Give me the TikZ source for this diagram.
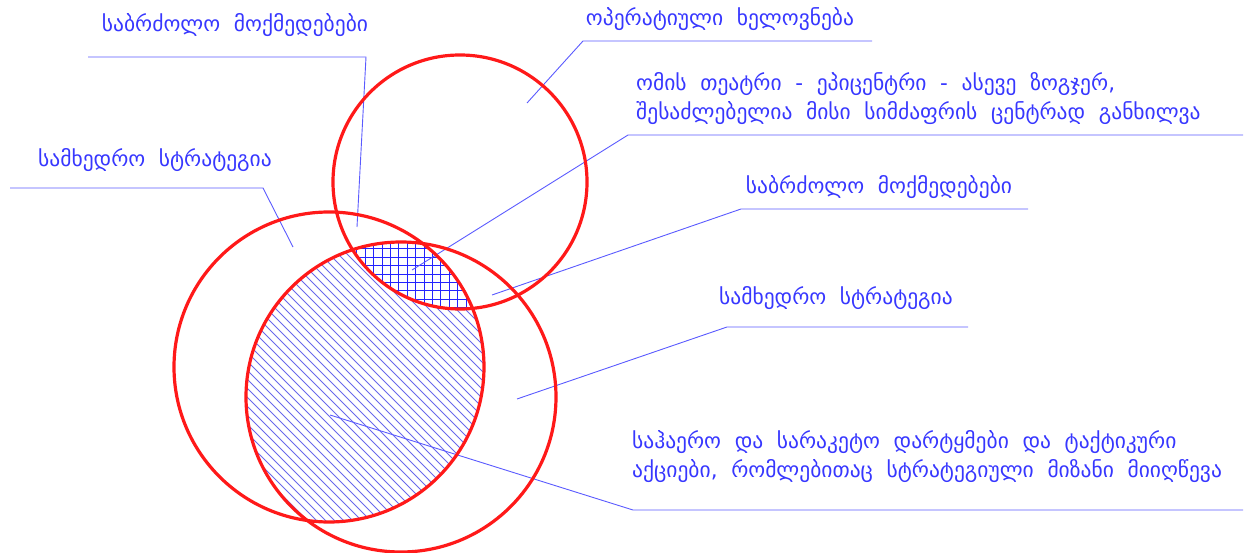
\documentclass[tikz,border=0pt]{standalone}
\usepackage{fontspec}
\usepackage{tikz}
\usetikzlibrary{calc,positioning}
\newfontfamily\geofont[WordSpace=2]{DejaVu Sans}
\definecolor{ringred}{RGB}{255,25,25}
\definecolor{leadblue}{RGB}{90,90,255}
\definecolor{textblue}{RGB}{55,55,255}
\definecolor{hatchblue}{RGB}{105,105,235}
\definecolor{gridblue}{RGB}{35,35,255}

\begin{document}
\begin{tikzpicture}[x=1pt,y=-1pt,
  ring/.style={draw=ringred,line width=3.2pt},
  lead/.style={draw=leadblue,line width=0.9pt},
  lbl/.style={text=textblue,font=\geofont\fontsize{21.5}{29}\selectfont,inner sep=0pt,align=left},
  hatchline/.style={draw=hatchblue,line width=0.8pt},
  gridline/.style={draw=gridblue,line width=0.8pt}]
\useasboundingbox (0,0) rectangle (1256,553);
\coordinate (cOp) at (460,182);
\coordinate (cStr) at (329,367);
\coordinate (cAct) at (401,397);

\begin{scope}
\clip (cStr) circle[radius=155];
\clip (cAct) circle[radius=155];
\foreach \c in {-285,-276,...,250} \draw[hatchline] (\c+200,200) -- (\c+560,560);
\clip (cOp) circle[radius=127];
\fill[white] (240,230) rectangle (490,320);
\foreach \i in {0,...,18} {
  \draw[gridline] (340+8.4*\i,230) -- (340+8.4*\i,320);
  \draw[gridline] (340,232+8.4*\i) -- (490,232+8.4*\i);
}
\end{scope}

\node[lbl] (tBattleA) at (235,25) {საბრძოლო მოქმედებები};
\node[lbl] (tArt) at (720,19) {ოპერატიული ხელოვნება};
\node[lbl,anchor=west] (tTheatre) at (636,99) {ომის თეატრი - ეპიცენტრი - ასევე ზოგჯერ,\\შესაძლებელია მისი სიმძაფრის ცენტრად განხილვა};
\node[lbl] (tStratA) at (155,160) {სამხედრო სტრატეგია};
\node[lbl] (tBattleB) at (879,187) {საბრძოლო მოქმედებები};
\node[lbl] (tStratB) at (836,298) {სამხედრო სტრატეგია};
\node[lbl,anchor=west] (tStrike) at (632,457) {საჰაერო და სარაკეტო დარტყმები და ტაქტიკური\\აქციები, რომლებითაც სტრატეგიული მიზანი მიიღწევა};

\coordinate (uBattleA) at (88,57);   \coordinate (kBattleA) at (366,57);  \coordinate (pBattleA) at (357,227);
\coordinate (uArt) at (872,41);      \coordinate (kArt) at (583,41);      \coordinate (pArt) at (527,103);
\coordinate (uTheatre) at (1243,135);\coordinate (kTheatre) at (628,135); \coordinate (pTheatre) at (412,270);
\coordinate (uStratA) at (10,188);   \coordinate (kStratA) at (263,188);  \coordinate (pStratA) at (293,247);
\coordinate (uBattleB) at (1028,209);\coordinate (kBattleB) at (741,209); \coordinate (pBattleB) at (492,295);
\coordinate (uStratB) at (968,327);  \coordinate (kStratB) at (727,327);  \coordinate (pStratB) at (517,399);
\coordinate (uStrike) at (1243,510); \coordinate (kStrike) at (633,510);  \coordinate (pStrike) at (330,415);

\draw[lead] (uBattleA) -- (kBattleA) -- (pBattleA);
\draw[lead] (uArt) -- (kArt) -- (pArt);
\draw[lead] (uTheatre) -- (kTheatre) -- (pTheatre);
\draw[lead] (uStratA) -- (kStratA) -- (pStratA);
\draw[lead] (uBattleB) -- (kBattleB) -- (pBattleB);
\draw[lead] (uStratB) -- (kStratB) -- (pStratB);
\draw[lead] (uStrike) -- (kStrike) -- (pStrike);

\draw[ring] (cStr) circle[radius=155];
\draw[ring] (cAct) circle[radius=155];
\draw[ring] (cOp) circle[radius=127];
\end{tikzpicture}
\end{document}
